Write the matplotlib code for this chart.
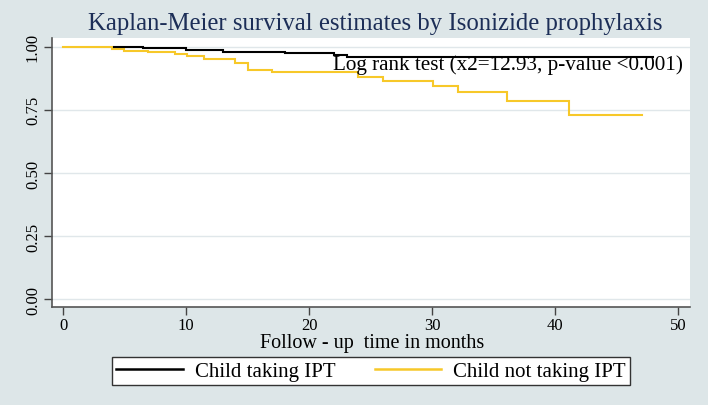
import matplotlib
matplotlib.use("Agg")
import matplotlib.pyplot as plt
from matplotlib.lines import Line2D

# Data
ipt_times = [4.1, 6.5, 10.0, 13.0, 18.0, 22.0, 23.1]
ipt_surv = [1.0, 0.994, 0.988, 0.980, 0.974, 0.967, 0.960]
ipt_end = 48.0

noipt_times = [0.0, 4.0, 4.95, 6.9, 9.05, 10.05, 11.45, 13.97, 15.0, 17.0, 24.0, 26.0, 30.05, 32.1, 36.1, 41.1]
noipt_surv = [1.0, 0.990, 0.983, 0.977, 0.971, 0.964, 0.952, 0.934, 0.909, 0.899, 0.881, 0.865, 0.843, 0.820, 0.786, 0.730]
noipt_end = 47.1

x_ticks = [0, 10, 20, 30, 40, 50]
y_ticks = [0.00, 0.25, 0.50, 0.75, 1.00]
y_tick_labels = ["0.00", "0.25", "0.50", "0.75", "1.00"]

title = "Kaplan-Meier survival estimates by Isonizide prophylaxis"
xlabel = "Follow - up  time in months"
annot = "Log rank test (x2=12.93, p-value <0.001)"
labels = ["Child taking IPT", "Child not taking IPT"]

BG = "#dde6e8"
YELLOW = "#f7c829"
NAVY = "#1c2e57"
SERIF = ["Liberation Serif", "DejaVu Serif"]

plt.rcParams["font.family"] = SERIF

fig = plt.figure(figsize=(7.08, 4.06), dpi=100, facecolor=BG)
ax = fig.add_axes([52 / 708, 1 - 308 / 406, (690 - 52) / 708, (308 - 39) / 406])
ax.set_facecolor("white")

ax.plot(ipt_times + [ipt_end], ipt_surv + [ipt_surv[-1]], drawstyle="steps-post",
        color="black", lw=1.5, zorder=3, solid_joinstyle="miter")
ax.plot(noipt_times + [noipt_end], noipt_surv + [noipt_surv[-1]], drawstyle="steps-post",
        color=YELLOW, lw=1.5, zorder=2, solid_joinstyle="miter")

ax.set_xlim(-0.92, 50.98)
ax.set_ylim(-0.030, 1.034)

ax.set_xticks(x_ticks)
ax.set_xticklabels([str(t) for t in x_ticks], fontsize=12)
ax.set_yticks(y_ticks)
ax.set_yticklabels(y_tick_labels, fontsize=12, rotation=90, va="center")

for s in ["top", "right"]:
    ax.spines[s].set_visible(False)
for s in ["left", "bottom"]:
    ax.spines[s].set_color("#555555")
    ax.spines[s].set_linewidth(1.2)
ax.tick_params(axis="both", length=6, width=1.0, color="#444444", pad=2)
ax.tick_params(axis="x", pad=1)

ax.grid(axis="y", color="#e0e7ea", lw=1.0, zorder=0)
ax.set_axisbelow(True)

ax.set_xlabel(xlabel, fontsize=14.5, va="center")
ax.xaxis.set_label_coords((372 - 52) / 638, (308 - 344) / 269)

ax.text(21.9, 0.930, annot, fontsize=15.2, color="black", ha="left", va="center", zorder=4)

fig.text(375 / 708, 1 - 24 / 406, title, fontsize=17.8, color=NAVY, ha="center", va="center")

handles = [Line2D([0], [0], color="black", lw=1.8), Line2D([0], [0], color=YELLOW, lw=1.8)]
leg = fig.legend(handles, labels, loc="center", bbox_to_anchor=(371 / 708, 1 - 372 / 406),
                 ncol=2, frameon=True, fancybox=False, fontsize=15, handlelength=3.2,
                 columnspacing=1.9, handletextpad=0.55, borderpad=0.22, borderaxespad=0)
leg.get_frame().set_edgecolor("#333333")
leg.get_frame().set_facecolor("white")
leg.get_frame().set_alpha(1.0)
leg.get_frame().set_linewidth(1.0)

fig.savefig("out.png", dpi=100, facecolor=BG)
